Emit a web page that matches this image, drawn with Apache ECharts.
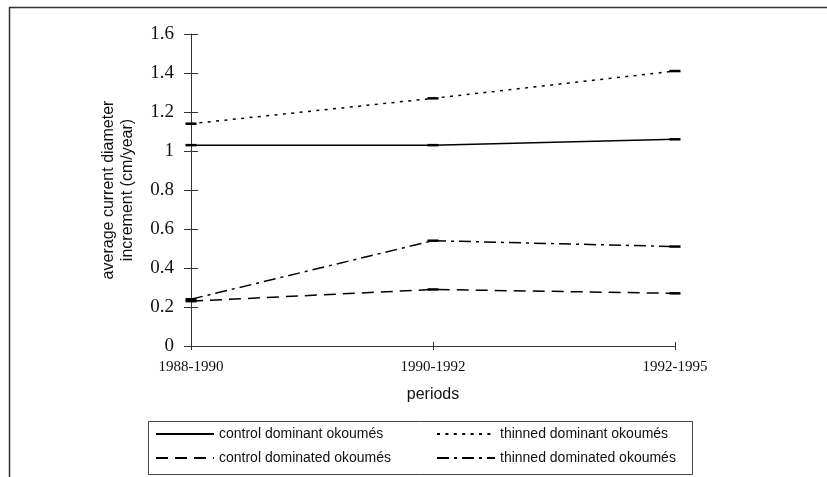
<!DOCTYPE html>
<html>
<head>
<meta charset="utf-8">
<script src="https://cdn.jsdelivr.net/npm/echarts@6/dist/echarts.min.js"></script>
<style>
  html, body { margin: 0; padding: 0; background: #fff; }
  #chart { width: 827px; height: 477px; }
</style>
</head>
<body>
<div id="chart"></div>
<script>
// Periods of measurement
const periods = ['1988-1990', '1990-1992', '1992-1995'];

// Average current diameter increment (cm/year)
const controlDominant = [1.03, 1.03, 1.06];
const thinnedDominant = [1.14, 1.27, 1.41];
const controlDominated = [0.23, 0.29, 0.27];
const thinnedDominated = [0.24, 0.54, 0.51];

const yMin = 0, yMax = 1.6, yStep = 0.2;

const serif = '"Liberation Serif", "Times New Roman", serif';
const sans = '"Liberation Sans", Arial, sans-serif';
const axisColor = '#333';

function lineSeries(name, data, dash) {
  return {
    name: name,
    type: 'line',
    data: data,
    xAxisIndex: 0,
    yAxisIndex: 0,
    symbol: 'rect',
    symbolSize: [11, 2.5],
    itemStyle: { color: '#000' },
    lineStyle: { color: '#000', width: 1.5, type: dash },
    emphasis: { disabled: true },
    animation: false
  };
}

const chart = echarts.init(document.getElementById('chart'), null, { renderer: 'canvas' });

chart.setOption({
  animation: false,
  backgroundColor: '#fff',
  grid: { left: 191, right: 152, top: 34, bottom: 131, containLabel: false },
  xAxis: [
    {
      type: 'category',
      data: periods,
      boundaryGap: false,
      position: 'bottom',
      axisLine: { lineStyle: { color: axisColor, width: 1 } },
      axisTick: { show: true, length: 4, lineStyle: { color: axisColor } },
      axisLabel: { fontFamily: serif, fontSize: 15, color: '#111', margin: 14 },
      name: 'periods',
      nameLocation: 'middle',
      nameGap: 41,
      nameTextStyle: { fontFamily: sans, fontSize: 16, color: '#111' },
      splitLine: { show: false }
    },
    {
      // inward half of the crossing ticks
      type: 'category',
      data: periods,
      boundaryGap: false,
      position: 'bottom',
      axisLine: { show: false },
      axisTick: { show: true, inside: true, length: 4, lineStyle: { color: axisColor } },
      axisLabel: { show: false },
      splitLine: { show: false }
    }
  ],
  yAxis: [
    {
      type: 'value',
      min: yMin,
      max: yMax,
      interval: yStep,
      position: 'left',
      axisLine: { show: true, lineStyle: { color: axisColor, width: 1 } },
      axisTick: { show: true, length: 7, lineStyle: { color: axisColor } },
      axisLabel: { fontFamily: serif, fontSize: 19, color: '#111', margin: 17 },
      splitLine: { show: false },
      name: 'average current diameter\nincrement (cm/year)',
      nameLocation: 'middle',
      nameRotate: 90,
      nameGap: 54,
      nameTextStyle: { fontFamily: sans, fontSize: 16, color: '#111', lineHeight: 19 }
    },
    {
      // inward half of the crossing ticks
      type: 'value',
      min: yMin,
      max: yMax,
      interval: yStep,
      position: 'left',
      axisLine: { show: false },
      axisTick: { show: true, inside: true, length: 7, lineStyle: { color: axisColor } },
      axisLabel: { show: false },
      splitLine: { show: false }
    }
  ],
  legend: [
    {
      data: ['control dominant okoumés', 'control dominated okoumés'],
      orient: 'vertical',
      left: 155,
      top: 427,
      itemWidth: 58,
      itemHeight: 14,
      itemGap: 10,
      padding: 0,
      itemStyle: { opacity: 0 },
      textStyle: { fontFamily: sans, fontSize: 14, color: '#111' },
      selectedMode: false
    },
    {
      data: ['thinned dominant okoumés', 'thinned dominated okoumés'],
      orient: 'vertical',
      left: 436,
      top: 427,
      itemWidth: 58,
      itemHeight: 14,
      itemGap: 10,
      padding: 0,
      itemStyle: { opacity: 0 },
      textStyle: { fontFamily: sans, fontSize: 14, color: '#111' },
      selectedMode: false
    }
  ],
  graphic: [
    {
      // outer frame
      type: 'rect',
      shape: { x: 9.5, y: 7.5, width: 900, height: 600 },
      style: { fill: 'none', stroke: '#333', lineWidth: 1.5 },
      silent: true
    },
    {
      // legend box
      type: 'rect',
      shape: { x: 148.5, y: 421.5, width: 544, height: 53 },
      style: { fill: 'none', stroke: '#444', lineWidth: 1 },
      silent: true
    }
  ],
  series: [
    lineSeries('control dominant okoumés', controlDominant, 'solid'),
    lineSeries('thinned dominant okoumés', thinnedDominant, [3, 5.4]),
    lineSeries('control dominated okoumés', controlDominated, [12, 7]),
    lineSeries('thinned dominated okoumés', thinnedDominated, [12, 5, 3, 5])
  ]
});
</script>
</body>
</html>
